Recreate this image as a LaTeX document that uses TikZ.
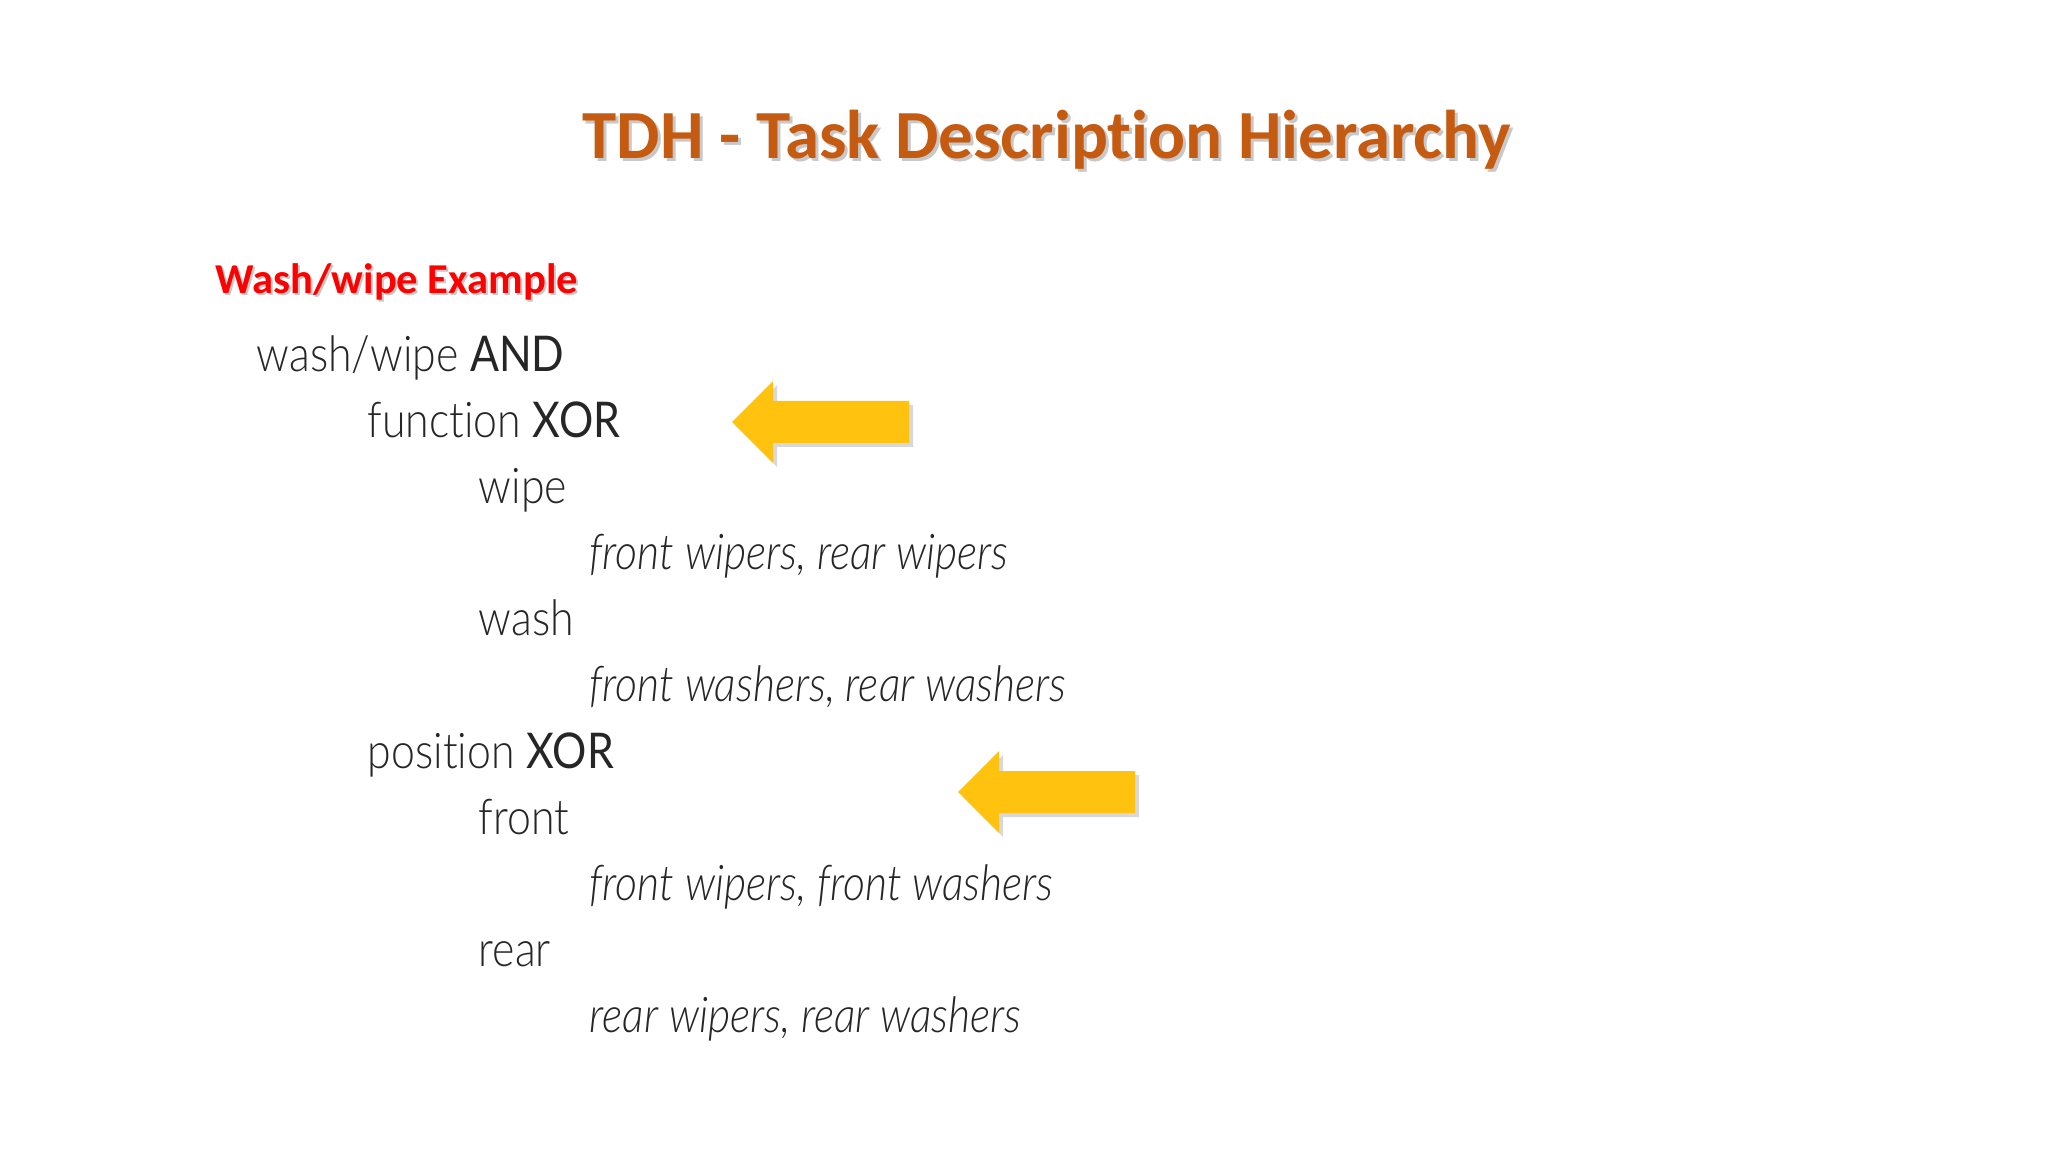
\documentclass[tikz,border=0pt]{standalone}
\usepackage{fontspec}
\setmainfont{Carlito}[Ligatures=NoCommon]
\newfontfamily\bodyfont{Lato}[UprightFont={* Light},ItalicFont={* Light Italic},BoldFont={* Regular},FakeStretch=0.87,Ligatures=NoCommon]
\usepackage{tikz}
\usetikzlibrary{positioning}
\definecolor{titleorange}{HTML}{C55A11}
\definecolor{arrowgold}{HTML}{FFC20E}
\definecolor{shadowgray}{HTML}{C8C8C8}
\tikzset{line/.style={anchor=base west,inner sep=0pt,font=\bodyfont\fontsize{14}{16}\selectfont,text=black!85},
  ttl/.style={anchor=base,inner sep=0pt,font=\bfseries\fontsize{19.6}{24}\selectfont},
  sub/.style={anchor=base west,inner sep=0pt,font=\bfseries\fontsize{12.1}{14}\selectfont},
  yarrow/.pic={
    \fill[shadowgray!70] (4,4) -- (45,-37) -- (45,-17) -- (181,-17) -- (181,25) -- (45,25) -- (45,45) -- cycle;
    \fill[arrowgold] (0,0) -- (41,-41) -- (41,-21) -- (177,-21) -- (177,21) -- (41,21) -- (41,41) -- cycle;}}

\begin{document}
\begin{tikzpicture}[x=0.01cm,y=-0.01cm]
    \useasboundingbox[fill=white] (0,0) rectangle (2048,1152);

    % title and subtitle
    \node[ttl,text=shadowgray] at (1050,162) {TDH - Task Description Hierarchy};
    \node[ttl,text=titleorange] (title) at (1047,159) {TDH - Task Description Hierarchy};
    \node[sub,text=shadowgray] at (217,296) {Wash/wipe Example};
    \node[sub,text=red] (sub) at (215,294) {Wash/wipe Example};

    % hierarchy
    \node[line] (washwipe) at (256,372) {wash/wipe \textbf{AND}};
    \node[line] (function) at (367,438) {function \textbf{XOR}};
    \node[line] (wipe) at (478,504) {wipe};
    \node[line] (wipers) at (589,570) {\itshape front wipers, rear wipers};
    \node[line] (wash) at (478,636) {wash};
    \node[line] (washers) at (589,702) {\itshape front washers, rear washers};
    \node[line] (position) at (367,768) {position \textbf{XOR}};
    \node[line] (front) at (478,834) {front};
    \node[line] (frontboth) at (589,900) {\itshape front wipers, front washers};
    \node[line] (rear) at (478,966) {rear};
    \node[line] (rearboth) at (589,1032) {\itshape rear wipers, rear washers};

    % arrows
    \pic at (732,422) {yarrow};
    \pic at (958,792) {yarrow};
\end{tikzpicture}
\end{document}
